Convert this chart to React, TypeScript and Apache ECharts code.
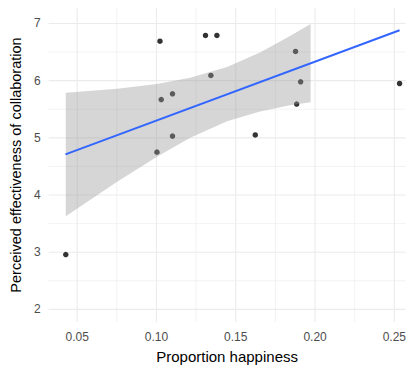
import React, { useEffect, useRef } from "react";
import * as echarts from "echarts";

// Scatter data
const happiness = [0.0428, 0.1003, 0.1022, 0.1030, 0.1101, 0.1101, 0.1309, 0.1343, 0.1381, 0.1623, 0.1877, 0.1884, 0.1909, 0.2533];
const effectiveness = [2.96, 4.75, 6.69, 5.67, 5.77, 5.03, 6.79, 6.09, 6.79, 5.05, 6.51, 5.59, 5.98, 5.95];

// Fitted line endpoints
const fitX = [0.0426, 0.2533];
const fitY = [4.71, 6.88];

// Confidence band
const bandX = [0.0428, 0.0752, 0.1003, 0.1213, 0.1445, 0.1653, 0.1842, 0.1972];
const bandLow = [3.63, 4.23, 4.67, 5.0, 5.29, 5.46, 5.57, 5.62];
const bandHigh = [5.79, 5.86, 5.94, 6.05, 6.24, 6.49, 6.78, 6.99];

// Ticks
const xTicks = [0.05, 0.1, 0.15, 0.2, 0.25];
const xMinor = [0.075, 0.125, 0.175, 0.225];
const yTicks = [2, 3, 4, 5, 6, 7];
const yMinor = [2.5, 3.5, 4.5, 5.5, 6.5];

const X_MIN = 0.03195;
const X_MAX = 0.2571;
const Y_MIN = 1.78;
const Y_MAX = 7.27;

const FONT = "Liberation Sans, Arial, sans-serif";

function gridSeries(values: number[], vertical: boolean, width: number, color: string) {
  return {
    type: "custom",
    silent: true,
    z: 0,
    data: values.map((v) => (vertical ? [v, Y_MIN] : [X_MIN, v])),
    renderItem: (params: any, api: any) => {
      const cs = params.coordSys;
      if (vertical) {
        const p = api.coord([api.value(0), Y_MIN]);
        return {
          type: "line",
          shape: { x1: p[0], y1: cs.y, x2: p[0], y2: cs.y + cs.height },
          style: { stroke: color, lineWidth: width },
        };
      }
      const p = api.coord([X_MIN, api.value(1)]);
      return {
        type: "line",
        shape: { x1: cs.x, y1: p[1], x2: cs.x + cs.width, y2: p[1] },
        style: { stroke: color, lineWidth: width },
      };
    },
  };
}

export default function App() {
  const ref = useRef<HTMLDivElement>(null);
  useEffect(() => {
    if (!ref.current) return;
    const chart = echarts.init(ref.current, null, { renderer: "svg" });
    chart.setOption({
      animation: false,
      backgroundColor: "#ffffff",
      textStyle: { fontFamily: FONT },
      grid: { left: 48, right: 3, top: 8, bottom: 45 },
      xAxis: {
        type: "value",
        min: X_MIN,
        max: X_MAX,
        axisLine: { show: false },
        axisTick: { show: false },
        splitLine: { show: false },
        axisLabel: {
          customValues: xTicks,
          formatter: (v: number) => v.toFixed(2),
          color: "#4d4d4d",
          fontSize: 12,
          fontFamily: FONT,
          margin: 9,
        },
        name: "Proportion happiness",
        nameLocation: "middle",
        nameGap: 27,
        nameTextStyle: { color: "#000000", fontSize: 15, fontFamily: FONT },
      },
      yAxis: {
        type: "value",
        min: Y_MIN,
        max: Y_MAX,
        axisLine: { show: false },
        axisTick: { show: false },
        splitLine: { show: false },
        axisLabel: {
          customValues: yTicks,
          formatter: (v: number) => String(v),
          color: "#4d4d4d",
          fontSize: 12,
          fontFamily: FONT,
          margin: 8,
        },
        name: "Perceived effectiveness of collaboration",
        nameLocation: "middle",
        nameGap: 11,
        nameTextStyle: { color: "#000000", fontSize: 14.5, fontFamily: FONT },
      },
      series: [
        gridSeries(xMinor, true, 0.8, "#efefef"),
        gridSeries(yMinor, false, 0.8, "#efefef"),
        gridSeries(xTicks, true, 1.1, "#ebebeb"),
        gridSeries(yTicks, false, 1.1, "#ebebeb"),
        {
          type: "scatter",
          z: 2,
          data: happiness.map((x, i) => [x, effectiveness[i]]),
          symbol: "circle",
          symbolSize: 5.5,
          itemStyle: { color: "#000000" },
        },
        {
          type: "custom",
          z: 3,
          silent: true,
          data: bandX.map((x, i) => [x, bandLow[i], bandHigh[i]]),
          encode: { x: 0, y: [1, 2] },
          renderItem: (params: any, api: any) => {
            if (params.dataIndex !== 0) return null;
            const top = bandX.map((x, i) => api.coord([x, bandHigh[i]]));
            const bottom = bandX.map((x, i) => api.coord([x, bandLow[i]])).reverse();
            return {
              type: "polygon",
              shape: { points: top.concat(bottom) },
              style: { fill: "rgba(153,153,153,0.4)" },
            };
          },
        },
        {
          type: "line",
          z: 4,
          data: fitX.map((x, i) => [x, fitY[i]]),
          symbol: "none",
          lineStyle: { color: "#3366FF", width: 2 },
        },
      ],
    });
    return () => chart.dispose();
  }, []);
  return (
    <div
      ref={ref}
      style={{ position: "fixed", left: 0, top: 0, width: 409, height: 369, background: "#fff" }}
    />
  );
}
